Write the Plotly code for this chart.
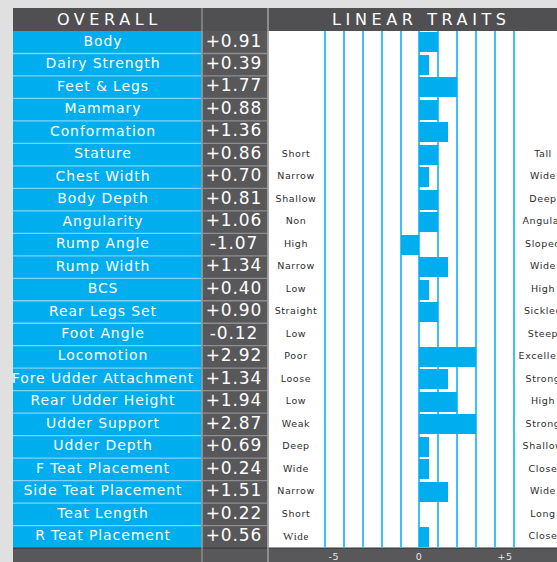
import plotly.graph_objects as go

# ---------------- data ----------------
traits = ["Body", "Dairy Strength", "Feet & Legs", "Mammary", "Conformation",
          "Stature", "Chest Width", "Body Depth", "Angularity", "Rump Angle",
          "Rump Width", "BCS", "Rear Legs Set", "Foot Angle", "Locomotion",
          "Fore Udder Attachment", "Rear Udder Height", "Udder Support",
          "Udder Depth", "F Teat Placement", "Side Teat Placement",
          "Teat Length", "R Teat Placement"]
scores = ["+0.91", "+0.39", "+1.77", "+0.88", "+1.36", "+0.86", "+0.70",
          "+0.81", "+1.06", "-1.07", "+1.34", "+0.40", "+0.90", "-0.12",
          "+2.92", "+1.34", "+1.94", "+2.87", "+0.69", "+0.24", "+1.51",
          "+0.22", "+0.56"]
# bar lengths as drawn in the chart
bar_values = [1, 0.5, 2, 1, 1.5, 1, 0.5, 1, 1, -1, 1.5, 0.5, 1, 0, 3, 1.5,
              2, 3, 0.5, 0.5, 1.5, 0, 0.5]
low_labels = ["", "", "", "", "", "Short", "Narrow", "Shallow", "Non", "High",
              "Narrow", "Low", "Straight", "Low", "Poor", "Loose", "Low",
              "Weak", "Deep", "Wide", "Narrow", "Short", "Wide"]
high_labels = ["", "", "", "", "", "Tall", "Wide", "Deep", "Angular", "Sloped",
               "Wide", "High", "Sickled", "Steep", "Excellent", "Strong",
               "High", "Strong", "Shallow", "Close", "Wide", "Long", "Close"]
grid_values = list(range(-5, 6))
axis_tick_values = [-5, 0, 5]
axis_tick_labels = ["-5", "0", "+5"]
headers = ["OVERALL", "LINEAR TRAITS"]

# ---------------- layout geometry (pixels) ----------------
W, H = 557, 562
ZERO = 419.4
PPU = 18.9
TOP = 31.0
RH = 22.48
N = len(traits)
BOTTOM = TOP + N * RH

BLUE = "#00aeef"
DARK = "#505052"
VALGRAY = "#58585a"


def ux(px):
    return (px - ZERO) / PPU


def px_x(x):
    return x / W


def px_y(y):
    return 1 - y / H


shapes = []


def rect(x0, y0, x1, y1, color, layer="between"):
    shapes.append(dict(type="rect", xref="paper", yref="paper",
                       x0=px_x(x0), x1=px_x(x1), y0=px_y(y1), y1=px_y(y0),
                       fillcolor=color, line=dict(width=0), layer=layer))


def line(x0, y0, x1, y1, color, width, layer="between"):
    shapes.append(dict(type="line", xref="paper", yref="paper",
                       x0=px_x(x0), x1=px_x(x1), y0=px_y(y0), y1=px_y(y1),
                       line=dict(color=color, width=width), layer=layer))


# panels
rect(268.5, TOP, W, BOTTOM, "white", layer="below")
rect(13, 8, W, TOP, DARK)
rect(13, TOP, 201.5, BOTTOM, BLUE)
rect(202.5, TOP, 267.5, BOTTOM, VALGRAY)
rect(13, BOTTOM, W, H, VALGRAY)
line(13, BOTTOM, W, BOTTOM, "#3c3c3e", 1.2)

# row separators
for i in range(1, N):
    yy = TOP + i * RH
    line(13, yy, 201.5, yy, "#7fd2f4", 1.3)
    line(202.5, yy, 267.5, yy, "#8e8e90", 1.3)
    line(269, yy, W, yy, "white", 2.2)

# column separators
line(202, 8, 202, H, "#8c8c8c", 1.5)
line(268, 8, 268, H, "#9c9c9c", 1.6)

fig = go.Figure()

fig.add_trace(go.Bar(x=bar_values, y=list(range(N)), orientation="h",
                     width=0.89, marker=dict(color=BLUE, line=dict(width=0)),
                     hoverinfo="skip", showlegend=False))

fig.add_trace(go.Scatter(x=[ux(103)] * N, y=list(range(N)), mode="text",
                         text=traits, textposition="middle center",
                         textfont=dict(family="DejaVu Sans", size=14, color="white"),
                         hoverinfo="skip", showlegend=False, cliponaxis=False))
fig.add_trace(go.Scatter(x=[ux(234)] * N, y=list(range(N)), mode="text",
                         text=scores, textposition="middle center",
                         textfont=dict(family="DejaVu Sans", size=17, color="white"),
                         hoverinfo="skip", showlegend=False, cliponaxis=False))
low_fonts = ["DejaVu Sans"] * (N - 1) + ["Liberation Serif"]
low_sizes = [9.5] * (N - 1) + [11]
fig.add_trace(go.Scatter(x=[ux(296)] * N, y=list(range(N)), mode="text",
                         text=low_labels, textposition="middle center",
                         textfont=dict(family=low_fonts, size=low_sizes, color="#2e2e2e"),
                         hoverinfo="skip", showlegend=False, cliponaxis=False))
fig.add_trace(go.Scatter(x=[ux(543)] * N, y=list(range(N)), mode="text",
                         text=high_labels, textposition="middle center",
                         textfont=dict(family="DejaVu Sans", size=9.5, color="#2e2e2e"),
                         hoverinfo="skip", showlegend=False, cliponaxis=False))

annotations = [
    dict(text=headers[0], x=px_x(109), y=px_y(19.5), xref="paper", yref="paper",
         xanchor="center", yanchor="middle", showarrow=False,
         font=dict(family="DejaVu Sans", size=16, color="white")),
    dict(text=headers[1], x=px_x(421), y=px_y(19.5), xref="paper", yref="paper",
         xanchor="center", yanchor="middle", showarrow=False,
         font=dict(family="DejaVu Sans", size=16, color="white")),
]
LABEL_PPU = 17.1
for v, lab in zip(axis_tick_values, axis_tick_labels):
    annotations.append(dict(text=lab, x=px_x(ZERO + v * LABEL_PPU), y=px_y(556),
                            xref="paper", yref="paper", xanchor="center",
                            yanchor="middle", showarrow=False,
                            font=dict(family="DejaVu Sans", size=9.5, color="#e6e6e6")))

fig.update_layout(
    width=W, height=H, margin=dict(l=0, r=0, t=0, b=0),
    paper_bgcolor="#e0e0e0", plot_bgcolor="rgba(0,0,0,0)",
    shapes=shapes, annotations=annotations, showlegend=False, bargap=0,
    xaxis=dict(range=[ux(0), ux(W)], domain=[0, 1], tickvals=grid_values,
               showticklabels=False, showgrid=True, gridcolor="#3ec2f3",
               gridwidth=1.5, zeroline=False, showline=False, fixedrange=True),
    yaxis=dict(range=[N - 0.5, -0.5], domain=[px_y(BOTTOM), px_y(TOP)],
               showticklabels=False, showgrid=False, zeroline=False,
               showline=False, fixedrange=True),
)

post = """
var gd = document.getElementById('{plot_id}');
gd.querySelectorAll('text').forEach(function(t){
  var s = t.textContent;
  if (s === 'OVERALL' || s === 'LINEAR TRAITS') { t.style.letterSpacing = '4.6px'; }
  else {
    var fs = parseFloat(t.style.fontSize);
    if (fs >= 13) { t.style.letterSpacing = '0.9px'; }
    else if (fs >= 9) { t.style.letterSpacing = '0.6px'; }
  }
});
"""

fig.write_html("out.html", post_script=post, config={"displayModeBar": False})
